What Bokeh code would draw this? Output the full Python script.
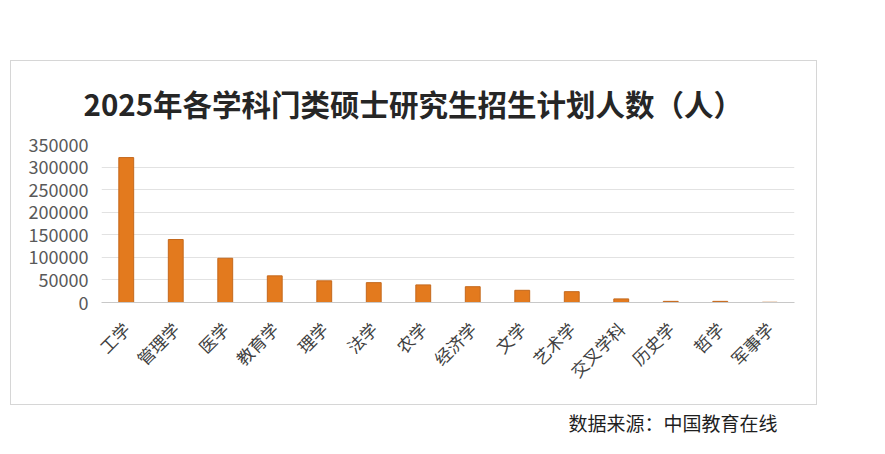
import math
from bokeh.plotting import figure
from bokeh.models import ColumnDataSource, FixedTicker, NumeralTickFormatter, Range1d
from bokeh.layouts import column
from bokeh.embed import file_html
from bokeh.resources import INLINE

categories = ["工学", "管理学", "医学", "教育学", "理学", "法学", "农学", "经济学",
              "文学", "艺术学", "交叉学科", "历史学", "哲学", "军事学"]
values = [321000, 139500, 98000, 59000, 48000, 44000, 39000, 35000,
          27000, 24000, 8000, 2500, 2500, 500]
y_ticks = [0, 50000, 100000, 150000, 200000, 250000, 300000, 350000]
title_text = "2025年各学科门类硕士研究生招生计划人数（人）"
source_text = "数据来源：中国教育在线"

FONT = "Noto Sans CJK SC"

src = ColumnDataSource(dict(cat=categories, val=values))

p = figure(width=807, height=345, x_range=categories, y_range=Range1d(0, 350000),
           output_backend="svg", toolbar_location=None,
           min_border_left=90, min_border_right=24, min_border_top=83, min_border_bottom=104)
p.margin = (60, 0, 0, 10)
p.styles = {"border": "1px solid #d6d6d6"}

p.vbar(x="cat", top="val", width=0.3, source=src,
       fill_color="#E37A1E", line_color="#C4681C", line_width=1)

p.title.text = title_text
p.title.align = "left"
p.title.offset = -18
p.title.standoff = 37
p.title.vertical_align = "top"
p.title.text_line_height = 0.9
p.title.text_font = FONT
p.title.text_font_size = "29.5px"
p.title.text_font_style = "bold"
p.title.text_color = "#262626"

p.outline_line_color = None
p.background_fill_color = "white"
p.border_fill_color = "white"

p.xgrid.grid_line_color = None
p.ygrid.grid_line_color = "#e2e2e2"
p.ygrid.grid_line_width = 1
p.yaxis.ticker = FixedTicker(ticks=y_ticks)
p.yaxis.formatter = NumeralTickFormatter(format="0")
p.yaxis.axis_line_color = None
p.yaxis.major_tick_line_color = None
p.yaxis.minor_tick_line_color = None
p.yaxis.major_label_text_font = FONT
p.yaxis.major_label_text_font_size = "18px"
p.yaxis.major_label_text_color = "#595959"
p.yaxis.major_label_standoff = 7

p.xaxis.axis_line_color = "#c8c8c8"
p.xaxis.major_tick_line_color = None
p.xaxis.minor_tick_line_color = None
p.xaxis.major_label_orientation = math.pi / 4
p.xaxis.major_label_text_font = FONT
p.xaxis.major_label_text_font_size = "17px"
p.xaxis.major_label_text_color = "#404040"
p.xaxis.major_label_standoff = 17

q = figure(width=807, height=40, output_backend="svg", toolbar_location=None,
           x_range=Range1d(0, 1), y_range=Range1d(0, 1),
           min_border_left=0, min_border_right=0, min_border_top=0, min_border_bottom=0)
q.margin = (0, 0, 0, 10)
q.axis.visible = False
q.grid.visible = False
q.outline_line_color = None
q.title.text = source_text
q.title.align = "left"
q.title.offset = 468
q.title.standoff = 2
q.title.text_font = FONT
q.title.text_font_size = "19px"
q.title.text_font_style = "normal"
q.title.text_color = "#1f1f1f"

layout = column(p, q, spacing=0)
open("out.html", "w").write(file_html(layout, INLINE))
